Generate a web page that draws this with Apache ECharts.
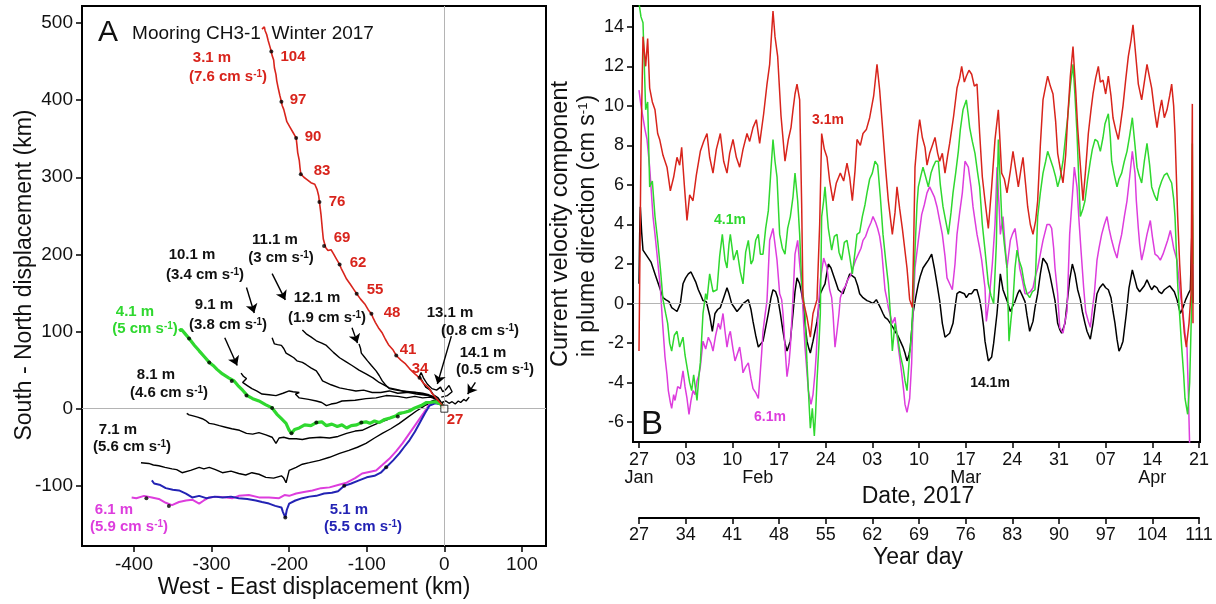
<!DOCTYPE html>
<html><head><meta charset="utf-8">
<script src="https://cdn.jsdelivr.net/npm/echarts@6/dist/echarts.min.js"></script>
<style>html,body{margin:0;padding:0;background:#fff}#c{width:1216px;height:604px}</style>
</head><body><div id="c"></div>
<script>
// ---------- Panel A: progressive vector tracks (km east, km north) ----------
const track31 = [[0,0],[-4,6],[-10,13],[-16,20],[-20,27],[-27,33],[-32,40],[-38,45],[-45,52],[-50,58],[-56,63],[-62,69],[-66,76],[-72,83],[-76,90],[-80,98],[-85,105],[-89,112],[-92,118],[-94,123],[-98,128],[-102,135],[-108,142],[-113,149],[-117,155],[-121,161],[-126,168],[-130,176],[-133,182],[-135,187],[-139,194],[-143,201],[-146,206],[-150,205],[-153,209],[-155,211],[-156,220],[-157,230],[-158,241],[-159,252],[-160,260],[-161,268],[-162,276],[-164,284],[-167,291],[-172,293],[-177,297],[-181,300],[-185,304],[-186,312],[-187,322],[-189,332],[-190,342],[-191,351],[-195,358],[-199,365],[-203,372],[-205,380],[-207,388],[-209,393],[-210,398],[-212,406],[-214,415],[-216,425],[-217,433],[-219,442],[-220,452],[-222,458],[-223,463],[-225,470],[-227,477],[-229,485],[-231,490],[-232,495],[-235,492]];
const track41 = [[0,0],[-5,6],[-12,9],[-18,8],[-23,8],[-30,4],[-38,1],[-45,-3],[-52,-5],[-58,-6],[-62,-9],[-70,-12],[-77,-14],[-84,-18],[-90,-16],[-96,-19],[-101,-17],[-107,-18],[-113,-21],[-120,-22],[-126,-25],[-132,-21],[-138,-23],[-145,-20],[-152,-22],[-158,-17],[-165,-18],[-172,-22],[-180,-21],[-187,-25],[-193,-27],[-197,-32],[-200,-28],[-204,-19],[-210,-13],[-216,-7],[-222,1],[-230,5],[-239,10],[-247,13],[-254,17],[-260,24],[-266,30],[-271,36],[-278,40],[-286,45],[-293,51],[-298,56],[-303,60],[-309,67],[-316,75],[-322,82],[-329,91],[-334,97],[-339,103],[-342,101]];
const track51 = [[0,0],[-5,6],[-12,7],[-19,4],[-25,-6],[-32,-19],[-38,-30],[-45,-41],[-52,-50],[-58,-58],[-66,-67],[-75,-76],[-82,-83],[-90,-87],[-100,-89],[-110,-93],[-120,-97],[-129,-100],[-137,-107],[-145,-109],[-155,-110],[-165,-113],[-174,-114],[-183,-116],[-192,-119],[-200,-123],[-203,-131],[-205,-141],[-208,-134],[-210,-128],[-218,-126],[-226,-123],[-235,-121],[-243,-119],[-254,-117],[-265,-116],[-275,-114],[-286,-115],[-296,-114],[-307,-116],[-316,-113],[-325,-115],[-333,-110],[-342,-106],[-350,-105],[-359,-103],[-366,-99],[-374,-97],[-377,-93]];
const track61 = [[0,0],[-5,6],[-12,8],[-19,6],[-27,-6],[-36,-19],[-45,-32],[-54,-45],[-62,-55],[-71,-65],[-80,-73],[-88,-80],[-97,-82],[-106,-84],[-115,-90],[-126,-96],[-137,-99],[-148,-102],[-159,-103],[-170,-106],[-181,-108],[-191,-110],[-200,-113],[-206,-112],[-213,-116],[-226,-115],[-239,-115],[-252,-112],[-265,-113],[-273,-116],[-281,-115],[-292,-114],[-303,-115],[-310,-119],[-316,-123],[-325,-118],[-333,-119],[-342,-121],[-351,-125],[-359,-122],[-368,-117],[-377,-115],[-387,-113],[-397,-116],[-403,-115]];
const track71 = [[0,0],[-5,6],[-13,11],[-20,8],[-28,2],[-36,-3],[-47,-11],[-58,-19],[-69,-26],[-80,-32],[-90,-38],[-101,-45],[-112,-50],[-123,-54],[-135,-58],[-148,-63],[-161,-67],[-174,-70],[-183,-72],[-191,-76],[-200,-80],[-202,-88],[-204,-96],[-207,-90],[-210,-87],[-220,-90],[-230,-89],[-239,-85],[-248,-83],[-256,-86],[-265,-84],[-275,-81],[-286,-83],[-295,-79],[-303,-76],[-310,-78],[-316,-76],[-327,-80],[-338,-83],[-345,-79],[-351,-78],[-360,-76],[-368,-74],[-375,-73],[-381,-71],[-391,-70]];
const track81 = [[0,0],[-5,6],[-12,9],[-20,6],[-30,3],[-41,0],[-50,-4],[-62,-9],[-73,-14],[-84,-18],[-95,-23],[-106,-28],[-115,-29],[-126,-32],[-137,-36],[-148,-38],[-160,-37],[-174,-38],[-183,-40],[-191,-39],[-200,-39],[-207,-37],[-213,-38],[-217,-45],[-220,-40],[-222,-37],[-230,-34],[-239,-31],[-247,-33],[-255,-32],[-264,-28],[-274,-26],[-282,-24],[-290,-22],[-297,-20],[-303,-19],[-308,-15],[-312,-13],[-318,-11],[-325,-9],[-329,-8],[-332,-6]];
const track91 = [[0,0],[-5,8],[-10,12],[-18,15],[-28,14],[-38,16],[-49,14],[-60,16],[-75,17],[-88,14],[-101,13],[-115,11],[-132,10],[-140,7],[-146,6],[-152,4],[-158,8],[-165,10],[-175,12],[-187,14],[-192,19],[-187,21],[-195,22],[-200,23],[-208,20],[-217,17],[-226,18],[-235,19],[-242,23],[-248,26],[-254,30],[-260,34],[-255,39],[-259,42],[-262,46]];
const track101 = [[0,0],[-5,8],[-12,14],[-20,17],[-28,19],[-38,21],[-49,21],[-60,20],[-71,23],[-82,21],[-93,21],[-104,24],[-114,23],[-125,25],[-135,27],[-146,31],[-157,36],[-161,43],[-165,49],[-172,53],[-178,57],[-183,60],[-190,62],[-194,66],[-199,69],[-204,72],[-207,78],[-210,82],[-215,83],[-219,84],[-222,92]];
const track111 = [[0,0],[-5,8],[-12,15],[-20,18],[-28,20],[-36,21],[-45,22],[-54,23],[-62,25],[-71,27],[-78,31],[-84,34],[-92,40],[-101,45],[-110,50],[-119,56],[-127,61],[-135,66],[-143,73],[-152,82],[-158,85],[-165,88],[-172,93],[-178,97],[-183,102]];
const track121 = [[0,0],[-5,8],[-12,14],[-20,17],[-28,18],[-36,19],[-45,21],[-54,23],[-62,24],[-71,26],[-76,31],[-80,36],[-84,43],[-88,49],[-94,56],[-99,62],[-103,67],[-107,72],[-108,78],[-110,84]];
const track131 = [[0,0],[-4,8],[-8,14],[-14,18],[-18,24],[-24,28],[-28,35],[-32,42],[-30,47],[-27,40],[-22,32],[-16,26],[-10,24],[-5,28],[-2,22],[2,25],[6,30],[10,22],[4,17],[-4,15]];
const track141 = [[0,0],[-3,8],[2,10],[6,7],[10,9],[14,6],[18,10],[21,8],[25,12],[28,10],[32,15]];
const weekDots31 = [[-32,40],[-62,69],[-94,123],[-113,149],[-135,187],[-155,211],[-161,268],[-185,304],[-191,351],[-210,398],[-223,463]];
const weekDotsOther = [[-329,91],[-303,60],[-274,36],[-255,17],[-222,1],[-197,-32],[-165,-18],[-107,-18],[-60,-10],[-205,-141],[-384,-116],[-355,-126],[-129,-100],[-75,-76]];
const arrowsA = [[[-255,157],[-245,124]],[[-222,175],[-205,141]],[[-119,105],[-112,85]],[[-283,92],[-267,56]],[[9,94],[-9,32]],[[40,34],[30,19]]];
const xTicksA = [-400,-300,-200,-100,0,100];
const yTicksA = [-100,0,100,200,300,400,500];

// ---------- Panel B: velocity time series [year day, cm/s] ----------
const vel31 = [[27,-2.4],[27.3,8],[27.6,13.5],[28,12],[28.3,13.4],[28.6,10.9],[29,10.2],[29.4,9.8],[29.8,8.6],[30.1,8.3],[30.6,7.5],[31.2,6.9],[31.7,5.7],[32.2,6.4],[32.7,7.4],[33.1,7],[33.4,7.9],[33.8,6],[34.2,4.2],[34.6,5.5],[35.1,5.2],[35.6,6.5],[36.2,7.7],[36.7,8.2],[37.2,8.6],[37.6,7.4],[38.1,6.6],[38.6,7.8],[39.2,8.6],[39.7,7.2],[40.2,6.6],[40.6,7.6],[41.1,8.3],[41.6,7.4],[42.1,6.9],[42.6,7.8],[43.2,8.6],[43.6,8.2],[44.1,8.9],[44.6,9.3],[45.1,8.1],[45.7,9.6],[46.2,11.1],[46.6,12.1],[47.1,14.8],[47.4,13.5],[47.8,12.5],[48.3,9.5],[48.9,7.2],[49.4,8.3],[49.8,8.9],[50.1,9.8],[50.4,10.6],[50.7,11.1],[51.1,10.3],[51.4,5],[51.6,0.2],[52.2,-0.7],[52.7,-1.7],[53.1,-0.5],[53.7,0.2],[54.1,4],[54.4,8.6],[54.8,7.8],[55.2,7.4],[55.6,6.2],[56.1,5.2],[56.6,6.1],[57.2,6.6],[57.7,6.2],[58.2,7.1],[58.6,6.4],[59,5.2],[59.4,6.7],[59.7,8.3],[60.2,8],[60.6,8.6],[61.1,8.8],[61.6,9.4],[62.2,10.5],[62.7,12.1],[63.1,10.8],[63.6,8.6],[64,6.8],[64.4,5.2],[65,3.5],[65.4,4.6],[65.7,5.9],[66.1,4.8],[66.5,3.8],[67.2,1.8],[67.6,0.2],[68,-0.2],[68.2,3],[68.4,6.9],[68.8,8.5],[69.1,9.3],[69.5,8.4],[69.9,7.9],[70.2,7],[70.6,7.6],[71,8],[71.4,8.4],[71.8,7.6],[72.1,7.2],[72.5,7.6],[72.9,6.6],[73.3,7.5],[73.6,8.1],[74.2,9.5],[74.7,10.9],[75.1,11.4],[75.4,12],[75.8,11.2],[76.1,11.5],[76.5,11.8],[76.9,11.6],[77.3,11],[77.7,11.1],[78.1,8.6],[78.5,6.4],[78.9,5.2],[79.4,3.8],[79.9,5.9],[80.4,8.3],[80.9,9.8],[81.4,6.6],[81.8,6.3],[82.2,5.6],[82.7,6.7],[83.1,7.7],[83.5,6.8],[83.9,5.9],[84.3,6.8],[84.6,7.4],[85,6],[85.3,4.9],[85.7,4],[86.1,3.5],[86.5,4.2],[86.8,5.2],[87.2,8],[87.6,10.3],[88,11],[88.3,11.5],[88.7,11],[89.1,10.6],[89.5,9.2],[89.8,7.6],[90.2,6.8],[90.6,6.1],[91,7.5],[91.3,9.4],[91.7,11.5],[92.1,13],[92.5,10.8],[92.8,8.9],[93.2,7],[93.6,5.2],[94,6.8],[94.4,8.6],[94.8,9.8],[95.1,10.6],[95.5,11.4],[95.9,12],[96.2,11.2],[96.6,11.3],[97,10.6],[97.4,11.5],[97.8,10.5],[98.1,9.4],[98.5,8.8],[98.9,8.3],[99.2,9],[99.6,10],[100,11.3],[100.4,12.5],[100.8,13.3],[101.1,14.1],[101.5,12.6],[101.9,11.1],[102.4,10.3],[102.8,11.2],[103.2,12.1],[103.6,11.4],[103.9,10.9],[104.3,9.8],[104.7,8.9],[105,9.6],[105.4,10.3],[105.8,9.4],[106.2,9.8],[106.6,10.5],[106.9,11.1],[107.2,10],[107.4,8.6],[107.8,4.4],[108.1,2],[108.4,0.2],[108.8,-1.5],[109.1,-2.2],[109.5,-1],[109.8,0.5],[110,10.1],[110.1,-1]];
const vel41 = [[27,15.2],[27.3,14.5],[27.6,14.2],[28,9.8],[28.3,10.2],[28.6,5.9],[29,6.2],[29.4,4.4],[29.8,3.2],[30.2,1.8],[30.6,0.2],[31,-0.5],[31.3,-1],[31.6,-2],[31.9,-2.4],[32.3,-1.6],[32.7,-1.4],[33.1,-2.2],[33.6,-1.7],[33.9,-2.6],[34.2,-3.2],[34.6,-4],[34.9,-4.4],[35.2,-3.6],[35.4,-3.5],[35.7,-4.9],[36,-3.6],[36.2,-3],[36.6,-0.5],[37,0.5],[37.2,0.2],[37.6,1.5],[38.1,0.6],[38.7,0.7],[39.1,2.4],[39.5,3.5],[39.9,2.2],[40.2,1.8],[40.5,3],[40.7,3.5],[41.2,2.2],[41.7,2.7],[42.2,1.6],[42.6,1],[43,2.6],[43.4,3.2],[43.8,2],[44.1,2.2],[44.5,3.2],[44.9,3.5],[45.2,2.5],[45.6,2.5],[46,3.8],[46.4,4.7],[46.8,6.8],[47.1,8.3],[47.4,7.2],[47.7,6.4],[48.1,3.5],[48.5,2.8],[48.9,2.5],[49.3,3.8],[49.7,4.4],[50.1,5.4],[50.4,6.6],[50.8,5.2],[51.1,3.5],[51.4,1],[51.7,0.2],[51.9,-0.5],[52.2,-3],[52.5,-5],[52.7,-6.3],[53,-5.3],[53.3,-6.7],[53.5,-5.5],[53.7,-3.9],[54,-2],[54.2,-0.5],[54.4,4.4],[54.7,5.2],[54.9,5.9],[55.2,4.6],[55.4,3.8],[55.9,2.7],[56.3,3.4],[56.7,3.5],[57,2.6],[57.4,2.2],[57.8,3.1],[58.2,3.2],[58.6,2.4],[59,1.5],[59.4,2.6],[59.7,3.5],[60.1,3.6],[60.5,4.4],[60.9,5],[61.2,5.6],[61.6,6.3],[62,6.6],[62.4,7.2],[62.8,7],[63.2,5.4],[63.6,3.5],[64,2.2],[64.4,1],[64.7,-0.5],[65,-2.4],[65.4,-1],[65.8,-1.7],[66.2,-2.6],[66.6,-3.2],[66.9,-3.9],[67.2,-4.4],[67.5,-3],[67.9,-1.4],[68.1,0.1],[68.4,2.7],[68.7,5],[68.9,5.9],[69.3,6.5],[69.6,6.9],[70,6.4],[70.4,5.9],[70.8,6.6],[71.1,6.9],[71.5,7.2],[71.9,7.2],[72.2,6],[72.6,4.9],[73,4.2],[73.4,3.5],[73.8,4.6],[74.1,5.6],[74.5,6.6],[74.9,7.7],[75.2,8.8],[75.6,9.8],[76.1,10.3],[76.4,9.5],[76.6,8.9],[77,8.2],[77.4,7.6],[77.8,6.6],[78.1,5.9],[78.5,4],[78.9,2.7],[79.4,1],[79.8,0.4],[80.2,0],[80.6,3],[80.9,8.3],[81.2,6],[81.4,4.4],[81.8,3],[82.2,1.8],[82.5,-1.9],[82.8,-0.8],[83.1,0.15],[83.4,1.8],[83.7,2.7],[84,2.2],[84.4,1.8],[84.8,1],[85.2,0.5],[85.6,0.3],[86,0.6],[86.4,0.7],[86.8,4.4],[87.2,5.6],[87.6,6.6],[88,7.2],[88.3,7.7],[88.7,7.3],[89.1,6.9],[89.5,6.4],[89.8,5.9],[90.2,6.4],[90.6,7.2],[91,8.5],[91.3,9.4],[91.7,11],[92.1,12.1],[92.4,10.5],[92.7,8.6],[93,6],[93.2,4.4],[93.6,4.8],[93.9,5.2],[94.3,6.3],[94.7,7.2],[95,7.8],[95.4,8.3],[95.8,8.2],[96.2,7.7],[96.6,8.4],[96.9,9.1],[97.4,9.6],[97.7,8.4],[97.9,7.2],[98.3,6.5],[98.7,5.9],[99,6.3],[99.4,6.6],[99.8,7.2],[100.2,7.7],[100.6,8.5],[101,9.4],[101.4,8],[101.7,6.9],[102,6.5],[102.4,6.1],[102.8,7.2],[103.2,8.1],[103.6,7],[103.9,5.9],[104.3,5.5],[104.7,5.2],[105,5.8],[105.4,6.2],[105.8,6.5],[106.2,6.6],[106.6,6.3],[106.9,6.1],[107.2,5.3],[107.4,4.4],[107.8,1],[108.1,-0.6],[108.4,-2.2],[108.7,-3.6],[108.9,-4.8],[109.3,-5.6],[109.6,-4],[109.9,0],[110,8.1],[110.1,2]];
const vel61 = [[27,10.8],[27.3,10],[27.6,9.4],[27.9,8.8],[28.2,8.3],[28.6,6.9],[29.1,4.4],[29.4,3.5],[29.7,2.5],[30.2,0.8],[30.5,-0.8],[30.9,-2.7],[31.2,-3.6],[31.4,-4.4],[31.7,-5],[31.9,-5.3],[32.2,-4.6],[32.4,-4.9],[32.8,-4.2],[33.2,-4.3],[33.6,-3.4],[33.9,-4.2],[34.2,-4.8],[34.5,-5.6],[34.8,-4.9],[35.1,-4.4],[35.4,-4.6],[35.7,-3.9],[36,-3.6],[36.2,-3.2],[36.6,-1.9],[37,-2.3],[37.4,-1.7],[37.8,-2],[38.1,-2.4],[38.5,-1.6],[38.9,-1],[39.2,-1.3],[39.6,-0.5],[39.9,-1.4],[40.2,-2.2],[40.5,-1.6],[40.7,-1.4],[41.1,-2.3],[41.4,-2.9],[41.8,-2.5],[42.1,-2.2],[42.4,-2.9],[42.6,-3.5],[43,-3.2],[43.4,-3],[43.8,-3.8],[44.1,-4.3],[44.5,-4.5],[44.9,-4.8],[45.1,-3.9],[45.4,-2.5],[45.6,-1.4],[45.9,-0.6],[46.2,0.15],[46.6,3.2],[47.1,3.8],[47.4,3],[47.7,2.2],[48.1,0.5],[48.4,0.2],[48.6,-0.5],[48.9,-2.2],[49.2,-3.7],[49.5,-3],[49.7,-2.2],[50.1,0.3],[50.4,2.5],[50.8,3.2],[51.1,2],[51.4,1],[51.7,-1],[51.9,-2.2],[52.2,-3.5],[52.4,-4.4],[52.8,-5.1],[53.1,-4.6],[53.4,-3.5],[53.6,-2.5],[53.9,-0.2],[54.2,1.2],[54.7,2.3],[55.2,1.8],[55.6,0.7],[55.9,0.3],[56.1,-0.5],[56.4,-2.2],[56.7,-1.4],[57,-0.5],[57.2,0.3],[57.6,0.7],[58,0.9],[58.3,1.2],[58.7,1.4],[59.1,1.8],[59.5,2.2],[59.9,2.5],[60.3,2.8],[60.6,3.2],[61,3.4],[61.4,3.8],[61.8,4.1],[62.1,4.4],[62.5,4.1],[62.8,3.8],[63.1,3.4],[63.4,2.7],[63.9,0.7],[64.2,0.2],[64.4,-0.2],[64.7,-0.6],[65,-1],[65.4,-0.7],[65.9,-2.2],[66.4,-3.5],[66.7,-4.4],[66.9,-5.1],[67.2,-5.5],[67.6,-4.8],[67.9,-3],[68.1,-0.5],[68.4,1.8],[68.9,3.2],[69.4,4.5],[69.8,5],[70.2,5.6],[70.6,5.9],[70.9,5.9],[71.3,5.4],[71.7,4.9],[72.1,4.2],[72.5,3.5],[72.9,2.4],[73.2,1.3],[73.6,1],[74,0.7],[74.4,2],[74.7,3.5],[75.1,4.6],[75.5,5.6],[75.9,7.2],[76.4,6.9],[76.8,5.9],[77.1,4.9],[77.4,4.2],[77.7,3.5],[78.1,2.8],[78.4,2.2],[78.9,0.8],[79.1,-0.9],[79.5,0.15],[80,2],[80.4,4],[80.7,6.9],[81,5],[81.2,3.5],[81.6,4.4],[81.9,3],[82.2,1.8],[82.7,3.2],[83,3.5],[83.4,3.8],[83.8,2.8],[84.1,1.8],[84.5,1.2],[84.9,0.5],[85.3,0.5],[85.7,0.6],[86.1,0.8],[86.4,1.3],[86.8,1.8],[87.2,2.5],[87.6,3.2],[87.9,3.6],[88.2,4],[88.6,4],[88.9,3.8],[89.2,2.8],[89.4,1.8],[89.8,0.5],[90.1,-1.2],[90.6,-1.5],[90.9,-0.9],[91.2,-0.4],[91.6,3.5],[92,5.4],[92.3,6.9],[92.7,5.9],[93,4.2],[93.3,2.7],[93.7,0.8],[94,-0.4],[94.4,-0.9],[94.7,-1.2],[95,-0.3],[95.3,0.5],[95.7,2.2],[96,2.8],[96.4,3.5],[96.8,4],[97.2,4.4],[97.5,3.8],[97.9,3.2],[98.3,2.7],[98.7,2.3],[99,2.9],[99.4,3.5],[99.8,4.4],[100.2,5.2],[100.6,6.4],[101,7.7],[101.4,6.6],[101.6,5.2],[101.9,3.8],[102.1,3],[102.4,2.2],[102.8,2.8],[103.2,3.5],[103.7,4.2],[104,3.4],[104.4,2.5],[104.8,2.4],[105.2,2.2],[105.6,2.5],[105.9,2.8],[106.3,3.2],[106.7,3.7],[107,3.2],[107.2,2.8],[107.7,2.2],[108.2,0.5],[108.6,-0.5],[108.9,-1.5],[109.2,-2.2],[109.4,-4.5],[109.6,-7.2]];
const vel141 = [[27,1],[27.1,3.5],[27.2,4.9],[27.4,3.6],[27.6,2.7],[28,2.5],[28.4,2.3],[28.8,2.1],[29.1,1.8],[29.5,1.4],[29.9,1],[30.2,0.7],[30.6,0.3],[31,0.2],[31.5,0.1],[31.9,-0.2],[32.3,-0.3],[32.7,-0.4],[33.2,0],[33.6,1],[34,1.3],[34.4,1.5],[34.8,1.6],[35.1,1.5],[35.5,1.1],[35.9,0.7],[36.3,0.4],[36.6,0.15],[37.1,0.1],[37.6,-0.6],[38,-1.4],[38.4,-0.5],[38.8,-0.3],[39.2,-0.2],[39.7,0.3],[40.2,0.8],[40.5,0.5],[40.9,0],[41.3,-0.2],[41.7,-0.4],[42.2,-0.2],[42.6,0],[43,0.1],[43.4,0.2],[43.8,-0.3],[44.1,-0.9],[44.5,-1.6],[44.9,-2.2],[45.2,-2.1],[45.6,-1.9],[46,-1.2],[46.4,-0.5],[46.8,0.3],[47.1,0.7],[47.5,0.6],[47.8,0.3],[48.2,-0.5],[48.6,-1.4],[48.9,-2],[49.2,-2.4],[49.5,-2.1],[49.7,-1.9],[50.1,-0.5],[50.4,0.6],[50.7,1.3],[51.1,1],[51.4,0.5],[51.6,0.1],[51.9,-1],[52.2,-1.9],[52.5,-2.3],[52.7,-2.5],[53.1,-1.9],[53.4,-1.4],[53.7,-0.9],[54,-0.1],[54.2,0.5],[54.6,0.8],[54.9,1],[55.2,1.6],[55.4,2],[55.8,1.8],[56.1,1.5],[56.5,1.1],[56.9,0.7],[57.2,0.6],[57.6,0.5],[58.1,1],[58.6,1.5],[59,1.4],[59.4,1.3],[59.8,0.9],[60.1,0.5],[60.6,0.3],[61.2,0.15],[61.6,0.1],[62.1,0],[62.6,0.2],[63.2,-0.2],[63.6,-0.5],[63.9,-0.7],[64.3,-0.8],[64.7,-1],[65.1,-1.2],[65.4,-1.4],[65.8,-1.6],[66.2,-1.9],[66.6,-2.2],[66.9,-2.5],[67.2,-2.9],[67.5,-2.6],[67.7,-2.2],[68.1,-0.5],[68.5,0.3],[68.9,1],[69.2,1.4],[69.6,1.8],[70,2],[70.4,2.2],[70.9,2.5],[71.3,1.8],[71.7,1],[72.1,0.15],[72.5,-1],[72.9,-1.7],[73.2,-1.6],[73.6,-1.5],[74.1,-1],[74.4,-0.2],[74.7,0.5],[75.1,0.6],[75.4,0.7],[75.8,0.5],[76.1,0.3],[76.5,0.5],[76.9,0.5],[77.3,0.7],[77.7,0.7],[78.1,0.2],[78.4,-0.4],[78.7,-1.2],[78.9,-1.9],[79.2,-2.5],[79.4,-2.9],[79.7,-3],[79.9,-2.7],[80.2,-2],[80.4,-1.4],[80.7,-0.5],[80.9,0.3],[81.2,1.5],[81.6,0.7],[82.2,0.15],[82.7,-0.4],[83.1,-0.1],[83.4,0.1],[83.8,0.5],[84.1,0.7],[84.5,0.4],[84.9,0.1],[85.2,-0.6],[85.6,-1.4],[86.1,-0.9],[86.4,-0.2],[86.8,0.5],[87.2,1.5],[87.6,2.3],[87.9,2.2],[88.2,2],[88.6,1.5],[88.9,1],[89.4,0.15],[89.8,-1],[90.1,-1.3],[90.4,-1.5],[90.9,-1],[91.3,0.3],[91.6,1.2],[92,2],[92.4,1.5],[92.8,0.7],[93.2,0.2],[93.5,-0.4],[93.9,-1],[94.2,-1.4],[94.7,-1.8],[95.1,-1],[95.4,-0.2],[95.7,0.5],[96.1,0.8],[96.6,1],[97,0.8],[97.4,0.7],[97.8,0.3],[98.1,-0.4],[98.4,-1],[98.7,-1.8],[99,-2.4],[99.3,-2.2],[99.6,-1.9],[100.1,-0.5],[100.5,0.8],[101,1.7],[101.4,1.2],[101.7,0.8],[102.1,0.6],[102.4,0.5],[102.8,0.9],[103.2,1.2],[103.6,0.9],[103.9,0.7],[104.3,0.9],[104.7,0.8],[105,0.6],[105.4,0.5],[105.8,0.7],[106.2,0.8],[106.6,0.9],[106.9,1],[107.3,0.6],[107.7,0.2],[108.2,-0.5],[108.6,-0.2],[109,0.2],[109.4,0.5],[109.7,0.7],[110,4.5],[110.1,0]];
const dateTickDays = [27,34,41,48,55,62,69,76,83,90,97,104,111];
const dateTickLabels = ['27','03','10','17','24','03','10','17','24','31','07','14','21'];
const monthDays = [27,44.8,76,104];
const monthNames = ['Jan','Feb','Mar','Apr'];
const yearDayTicks = [27,34,41,48,55,62,69,76,83,90,97,104,111];
const yTicksB = [-6,-4,-2,0,2,4,6,8,10,12,14];

// ---------- chart ----------
const FF = '"Liberation Sans", Arial, Helvetica, sans-serif';
const RED = '#d8241c', GREEN = '#2fd82f', MAG = '#dd3ddd', BLUE = '#2323b4';
const chart = echarts.init(document.getElementById('c'), null, {renderer: 'canvas'});

function lbl(text, x, y, color, size) {
  return {type: 'text', x: x, y: y, silent: true, z: 50,
    style: {text: text, fill: color, fontFamily: FF, fontSize: size || 15, fontWeight: 'bold',
      textAlign: 'center', textVerticalAlign: 'middle',
      rich: {s: {fontSize: 10, fontWeight: 'bold', verticalAlign: 'top', fontFamily: FF}}}};
}
function sp(v) { return '(' + v + ' cm s{s|-1})'; }
function plain(text, x, y, size, rot) {
  return {type: 'text', x: x, y: y, rotation: rot || 0, silent: true, z: 50,
    style: {text: text, fill: '#111', fontFamily: FF, fontSize: size, textAlign: 'center', textVerticalAlign: 'middle',
      rich: {s: {fontSize: 13, verticalAlign: 'top', fontFamily: FF}}}};
}

const axisLineStyle = {color: '#000', width: 2};
const tickLabelA = {color: '#111', fontFamily: FF, fontSize: 19};
const tickLabel = {color: '#111', fontFamily: FF, fontSize: 18};

const trackSeries = (data, color, width, z) => ({
  type: 'line', xAxisIndex: 0, yAxisIndex: 0, data: data, showSymbol: false, symbol: 'none',
  lineStyle: {color: color, width: width}, z: z, silent: true, clip: true
});
const velSeries = (data, color, width, z) => ({
  type: 'line', xAxisIndex: 1, yAxisIndex: 1, data: data, showSymbol: false, symbol: 'none',
  lineStyle: {color: color, width: width}, z: z, silent: true, clip: true
});

const option = {
  animation: false,
  backgroundColor: '#fff',
  grid: [
    {left: 82, top: 6, width: 464, height: 540, show: true, borderColor: '#000', borderWidth: 2, backgroundColor: 'transparent'},
    {left: 633, top: 6, width: 567, height: 436, show: true, borderColor: '#000', borderWidth: 2, backgroundColor: 'transparent'},
    {left: 639, top: 508, width: 560, height: 10}
  ],
  xAxis: [
    {gridIndex: 0, type: 'value', min: -467, max: 131, axisLine: {onZero: false, lineStyle: axisLineStyle},
      axisTick: {customValues: xTicksA, length: 6, lineStyle: {color: '#000', width: 1.5}},
      axisLabel: Object.assign({customValues: xTicksA, margin: 9}, tickLabelA), splitLine: {show: false}},
    {gridIndex: 1, type: 'value', min: 26.1, max: 111.15, axisLine: {onZero: false, lineStyle: axisLineStyle},
      axisTick: {customValues: dateTickDays, length: 6, lineStyle: {color: '#000', width: 1.5}},
      axisLabel: Object.assign({customValues: dateTickDays, margin: 9,
        formatter: v => { const i = dateTickDays.indexOf(Math.round(v)); return i >= 0 ? dateTickLabels[i] : ''; }}, tickLabel),
      splitLine: {show: false}},
    {gridIndex: 1, type: 'value', min: 26.1, max: 111.15, position: 'bottom', offset: 18,
      axisLine: {show: false}, axisTick: {show: false}, splitLine: {show: false},
      axisLabel: Object.assign({customValues: monthDays, margin: 9,
        formatter: v => { for (let i = 0; i < monthDays.length; i++) if (Math.abs(monthDays[i] - v) < 0.01) return monthNames[i]; return ''; }}, tickLabel)},
    {gridIndex: 2, type: 'value', min: 27, max: 111, axisLine: {onZero: false, lineStyle: axisLineStyle},
      axisTick: {customValues: yearDayTicks, length: 6, lineStyle: {color: '#000', width: 1.5}},
      axisLabel: Object.assign({customValues: yearDayTicks, margin: 8}, tickLabel), splitLine: {show: false}}
  ],
  yAxis: [
    {gridIndex: 0, type: 'value', min: -178, max: 522, axisLine: {onZero: false, lineStyle: axisLineStyle},
      axisTick: {customValues: yTicksA, length: 6, lineStyle: {color: '#000', width: 1.5}},
      axisLabel: Object.assign({customValues: yTicksA, margin: 9}, tickLabelA), splitLine: {show: false}},
    {gridIndex: 1, type: 'value', min: -7, max: 15.05, axisLine: {onZero: false, lineStyle: axisLineStyle},
      axisTick: {customValues: yTicksB, length: 6, lineStyle: {color: '#000', width: 1.5}},
      axisLabel: Object.assign({customValues: yTicksB, margin: 9}, tickLabel), splitLine: {show: false}},
    {gridIndex: 2, type: 'value', show: false, min: 0, max: 1}
  ],
  series: [
    {type: 'line', xAxisIndex: 0, yAxisIndex: 0, data: [], z: 1, silent: true,
      markLine: {silent: true, symbol: 'none', label: {show: false}, lineStyle: {color: '#b4b4b4', width: 1, type: 'solid'},
        data: [{xAxis: 0}, {yAxis: 0}]}},
    {type: 'line', xAxisIndex: 1, yAxisIndex: 1, data: [], z: 1, silent: true,
      markLine: {silent: true, symbol: 'none', label: {show: false}, lineStyle: {color: '#b4b4b4', width: 1, type: 'solid'},
        data: [{yAxis: 0}]}},
    trackSeries(track71, '#000', 1.4, 3),
    trackSeries(track81, '#000', 1.4, 3),
    trackSeries(track91, '#000', 1.4, 3),
    trackSeries(track101, '#000', 1.4, 3),
    trackSeries(track111, '#000', 1.4, 3),
    trackSeries(track121, '#000', 1.4, 3),
    trackSeries(track131, '#000', 1.4, 3),
    trackSeries(track141, '#000', 1.4, 3),
    trackSeries(track61, MAG, 2, 4),
    trackSeries(track51, BLUE, 2, 5),
    trackSeries(track41, GREEN, 3.2, 6),
    trackSeries(track31, RED, 1.6, 7),
    {type: 'scatter', xAxisIndex: 0, yAxisIndex: 0, data: weekDots31.concat(weekDotsOther), symbolSize: 4,
      itemStyle: {color: '#000'}, z: 8, silent: true},
    {type: 'scatter', xAxisIndex: 0, yAxisIndex: 0, data: [[0, 0]], symbol: 'rect', symbolSize: 7,
      itemStyle: {color: '#fff', borderColor: '#000', borderWidth: 1}, z: 9, silent: true},
    {type: 'lines', coordinateSystem: 'cartesian2d', xAxisIndex: 0, yAxisIndex: 0, silent: true, z: 9,
      symbol: ['none', 'arrow'], symbolSize: 9, lineStyle: {color: '#000', width: 1.4, opacity: 1},
      data: arrowsA.map(a => ({coords: a}))},
    velSeries(vel141, '#000', 1.5, 3),
    velSeries(vel61, MAG, 1.5, 4),
    velSeries(vel41, GREEN, 1.5, 5),
    velSeries(vel31, RED, 1.5, 6)
  ],
  graphic: [
    plain('South - North displacement (km)', 25, 275, 23, Math.PI / 2),
    plain('West - East displacement (km)', 314, 588, 23, 0),
    plain('Current velocity component', 561, 224, 23.5, Math.PI / 2),
    plain('in plume direction (cm s{s|-1})', 588, 226, 23, Math.PI / 2),
    plain('Date, 2017', 918, 497, 23, 0),
    plain('Year day', 918, 558, 23, 0),
    plain('A', 108, 33, 30, 0),
    plain('Mooring CH3-1  Winter 2017', 253, 34, 19, 0),
    plain('B', 652, 425, 33, 0),
    lbl('3.1 m', 212, 58, RED), lbl(sp('7.6'), 228, 77, RED),
    lbl('104', 293, 57, RED), lbl('97', 298, 100, RED), lbl('90', 313, 137, RED), lbl('83', 322, 171, RED),
    lbl('76', 337, 202, RED), lbl('69', 342, 238, RED), lbl('62', 358, 263, RED), lbl('55', 375, 290, RED),
    lbl('48', 392, 313, RED), lbl('41', 408, 350, RED), lbl('34', 420, 369, RED), lbl('27', 455, 420, RED),
    lbl('10.1 m', 192, 255, '#111'), lbl(sp('3.4'), 205, 275, '#111'),
    lbl('11.1 m', 275, 240, '#111'), lbl(sp('3'), 281, 258, '#111'),
    lbl('12.1 m', 317, 298, '#111'), lbl(sp('1.9'), 327, 318, '#111'),
    lbl('13.1 m', 450, 313, '#111'), lbl(sp('0.8'), 480, 331, '#111'),
    lbl('14.1 m', 483, 353, '#111'), lbl(sp('0.5'), 495, 370, '#111'),
    lbl('4.1 m', 135, 312, GREEN), lbl(sp('5'), 145, 329, GREEN),
    lbl('9.1 m', 214, 305, '#111'), lbl(sp('3.8'), 228, 325, '#111'),
    lbl('8.1 m', 156, 375, '#111'), lbl(sp('4.6'), 169, 393, '#111'),
    lbl('7.1 m', 118, 430, '#111'), lbl(sp('5.6'), 132, 447, '#111'),
    lbl('6.1 m', 114, 510, MAG), lbl(sp('5.9'), 129, 527, MAG),
    lbl('5.1 m', 349, 510, BLUE), lbl(sp('5.5'), 363, 527, BLUE),
    lbl('3.1m', 828, 120, RED, 14), lbl('4.1m', 730, 220, GREEN, 14),
    lbl('6.1m', 770, 417, MAG, 14), lbl('14.1m', 990, 383, '#111', 14)
  ]
};
chart.setOption(option);
</script></body></html>
